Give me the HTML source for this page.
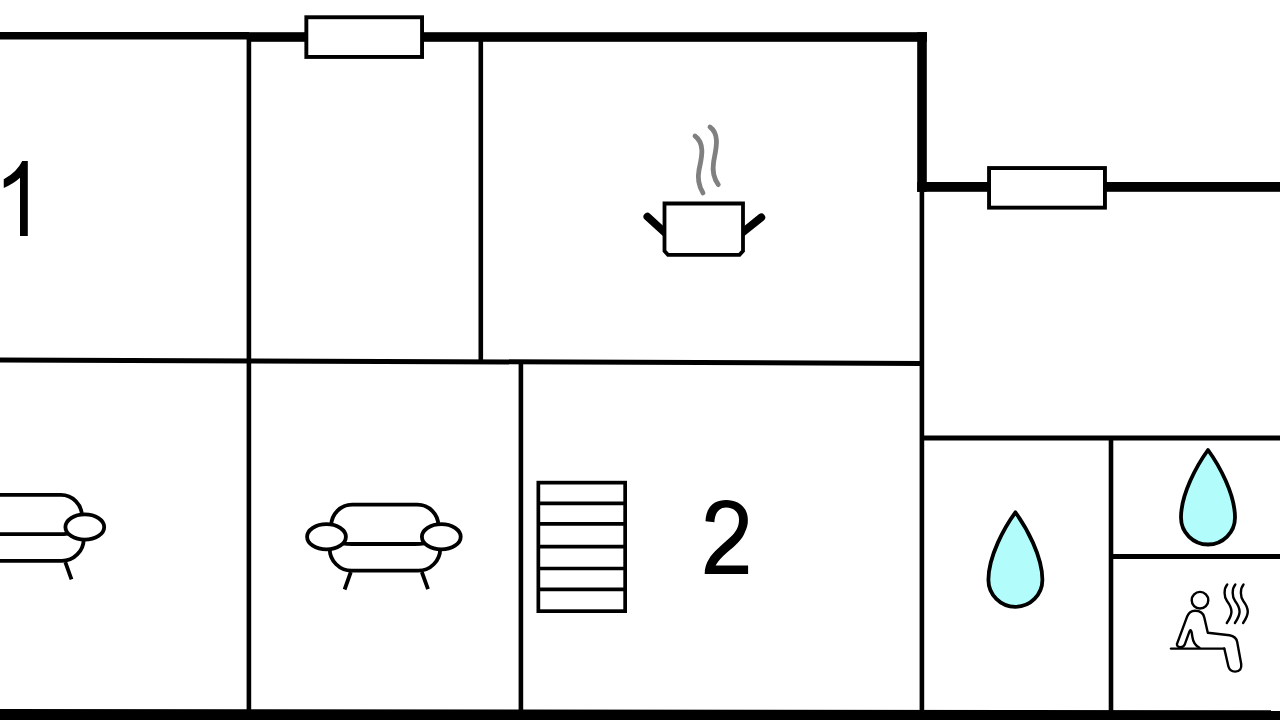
<!DOCTYPE html>
<html>
<head>
<meta charset="utf-8">
<style>
html,body{margin:0;padding:0;background:#fff;width:1280px;height:720px;overflow:hidden;}
svg{display:block;}
text{font-family:"Liberation Sans",sans-serif;}
</style>
</head>
<body>
<svg width="1280" height="720" viewBox="0 0 1280 720">
<defs>
<g id="sofa" fill="none" stroke="#000" stroke-width="3.8">
  <path d="M331.2,527 V525.7 A21,21 0 0 1 352.2,504.7 H417.4 A21,21 0 0 1 438.4,525.7 V527"/>
  <path d="M335.5,541.5 C340,543.5 345,544 352,544 H415 C422,544 427,543.5 431.5,541.5"/>
  <path d="M329.7,548 V548.7 A22,22 0 0 0 351.7,570.7 H418.2 A22,22 0 0 0 440.2,548.7 V548"/>
  <path d="M350.8,572 L344.6,589.5 M421.8,572 L428,589.2"/>
  <ellipse cx="326.5" cy="536.8" rx="19.4" ry="12.6" fill="#fff"/>
  <ellipse cx="441.3" cy="536.8" rx="19.4" ry="12.6" fill="#fff"/>
</g>
<path id="drop" d="M0,0 C11,15 27,44 27,67.5 A27,27 0 0 1 -27,67.5 C-27,44 -11,15 0,0 Z"/>
</defs>

<!-- walls -->
<g fill="#000">
  <rect x="0" y="32" width="249" height="7.5"/>
  <rect x="247" y="32.2" width="680" height="9.6"/>
  <rect x="917.2" y="32.2" width="9.6" height="159.6"/>
  <rect x="917.2" y="182" width="362.8" height="9.8"/>
  <polygon points="0,709 1280,710.3 1280,720 0,720"/>
</g>
<!-- interior lines -->
<g stroke="#000" stroke-width="4.6" fill="none">
  <line x1="248.9" y1="38" x2="248.9" y2="712"/>
  <line x1="480.8" y1="40" x2="480.8" y2="362"/>
  <line x1="0" y1="360" x2="922" y2="363.4" stroke-width="5"/>
  <line x1="520.9" y1="362" x2="520.9" y2="712"/>
  <line x1="921.9" y1="190" x2="921.9" y2="712"/>
  <line x1="921" y1="438" x2="1280" y2="438" stroke-width="5.2"/>
  <line x1="1111" y1="438" x2="1111" y2="712"/>
  <line x1="1111" y1="556.5" x2="1280" y2="556.5" stroke-width="5"/>
</g>
<!-- windows -->
<g fill="#fff" stroke="#000" stroke-width="3.9">
  <rect x="306.35" y="17.25" width="115.7" height="39.7"/>
  <rect x="989.05" y="168.05" width="115.9" height="39.6"/>
</g>

<!-- numbers -->
<path d="M22.2,160.9 H27.8 V236 H20 V177.8 Q13.5,183.8 3.75,188 V179.2 Q17,172 22.2,160.9 Z" fill="#000"/>
<path d="M704.7,574 L748.1,574 L748.1,565.6 L715.6,565.6 C718,561 722,557 727,552.5 C735,546 742,540 745,532 C747.5,527 748,523 747.8,519 C747.5,507 738,500 726.3,500 C713,500 706,508 705.5,521.2 L714.4,522.2 C715,512 719.5,507.5 726.3,507.5 C733.5,507.5 739,512 739,519.5 C739,527 736,532 730,537.5 C722,545 713,552 709,559 C706,564 704.7,568 704.7,574 Z" fill="#000"/>

<!-- pot -->
<g fill="none" stroke="#000">
  <path d="M647.4,216.6 L668,235.5 M761.3,217.4 L740,234.5" stroke-width="7.8" stroke-linecap="round"/>
  <path d="M664.5,203.5 H743 V251 L739.5,254.8 H668 L664.5,251 Z" stroke-width="3.8" fill="#fff"/>
  <path d="M695,136 C706,144 701,160 699,170 C697,180 700,188 703,193 M710,127 C721,135 715,152 713.6,162 C712,172 715,180 718.3,184.6" stroke="#808080" stroke-width="4.8" stroke-linecap="round"/>
</g>

<!-- sofas -->
<use href="#sofa"/>
<use href="#sofa" transform="translate(-356.5,-9.8)"/>

<!-- stairs -->
<g fill="none" stroke="#000" stroke-width="3.7">
  <rect x="538.35" y="482.65" width="86.8" height="128.5"/>
  <path d="M538,503.3 H625 M538,523.8 H625 M538,546.7 H625 M538,568.5 H625 M538,589.4 H625"/>
</g>

<!-- drops -->
<g fill="#b2fdfc" stroke="#000" stroke-width="3.8" stroke-linejoin="round">
  <use href="#drop" transform="translate(1015.4,512.3)"/>
  <use href="#drop" transform="translate(1208,450)"/>
</g>

<!-- sauna -->
<g fill="none" stroke="#000" stroke-width="2.4" stroke-linecap="round" stroke-linejoin="round">
  <circle cx="1200" cy="600.2" r="8.3"/>
  <path d="M1171,648.6 H1224"/>
  <path d="M1177,643.8 L1187,616.8 C1188.8,612.3 1191.5,610.8 1195,610.8 C1200,610.8 1203.3,613 1204.3,617.5 L1207.8,632.8 L1229.5,635.3 Q1236,636.3 1237.2,642 L1241.2,664 Q1242.2,671.3 1235.2,671.6 Q1229.6,671.6 1228.3,666 L1224.3,648.5 M1199.5,647.8 C1195,645.5 1193,641.5 1192.4,637 L1191.6,632 Q1190.6,628.6 1189.4,631.6 L1184.6,644.8 Q1183.4,647.4 1180,647.2 Q1176.5,646.6 1177,643.8"/>
  <path d="M1227.2,584.5 C1223.5,589 1224.0,597 1227.0,601 C1233.0,609 1233.0,614 1226.8,623 M1235.3,584.5 C1231.6,589 1232.1,597 1235.1,601 C1241.1,609 1241.1,614 1234.9,623 M1243.5,584.5 C1239.8,589 1240.3,597 1243.3,601 C1249.3,609 1249.3,614 1243.1,623"/>
</g>
</svg>
</body>
</html>
